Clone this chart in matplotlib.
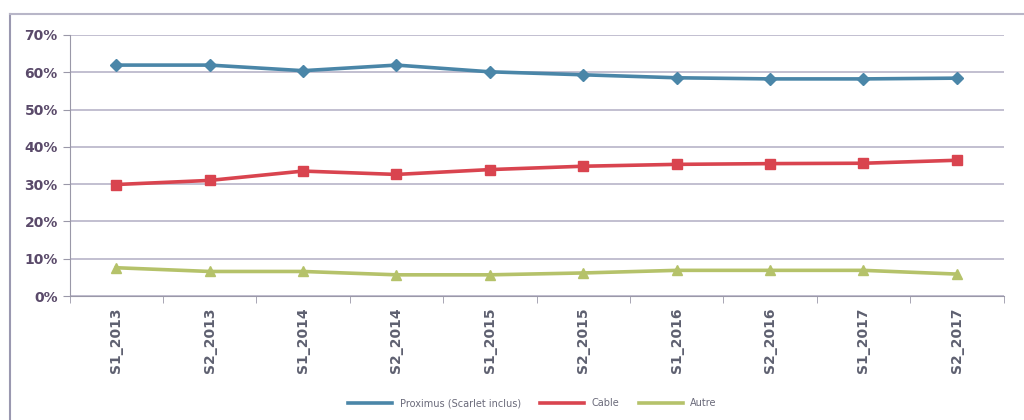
import matplotlib.pyplot as plt
from matplotlib.lines import Line2D
from matplotlib.ticker import PercentFormatter

# périodes semestrielles
periodes = ['S1_2013', 'S2_2013', 'S1_2014', 'S2_2014', 'S1_2015',
            'S2_2015', 'S1_2016', 'S2_2016', 'S1_2017', 'S2_2017']

# parts de marché (%)
proximus = [61.9, 61.9, 60.4, 61.9, 60.1, 59.3, 58.5, 58.2, 58.2, 58.4]
cable = [29.9, 31.0, 33.5, 32.6, 33.9, 34.8, 35.3, 35.5, 35.6, 36.4]
autre = [7.6, 6.6, 6.6, 5.7, 5.7, 6.2, 6.9, 6.9, 6.9, 5.9]

fig = plt.figure(figsize=(10.24, 4.2), dpi=100)
ax = fig.add_axes([0.068, 0.295, 0.912, 0.622])

# cadre du graphique (gauche + haut)
fig.add_artist(Line2D([10 / 1024, 10 / 1024], [0, 1 - 14 / 420], color='#9a98b0', lw=1.5))
fig.add_artist(Line2D([10 / 1024, 1], [1 - 14 / 420, 1 - 14 / 420], color='#b8b6c8', lw=1.5))

x = range(len(periodes))
ax.plot(x, proximus, color='#4a86a8', lw=2.6, marker='D', ms=6, label='Proximus (Scarlet inclus)')
ax.plot(x, cable, color='#d9444f', lw=2.6, marker='s', ms=7, label='Cable')
ax.plot(x, autre, color='#b5c26a', lw=2.6, marker='^', ms=7, label='Autre')

ax.set_ylim(0, 70)
ax.set_xlim(-0.5, len(periodes) - 0.5)
ax.set_yticks(range(0, 71, 10))
ax.yaxis.set_major_formatter(PercentFormatter(decimals=0))
ax.set_xticks(list(x))
ax.set_xticklabels(periodes, rotation=90)
ax.set_xticks([i - 0.5 for i in range(len(periodes) + 1)], minor=True)

ax.grid(axis='y', color='#b8b4c8', lw=1.2)
ax.set_axisbelow(True)
for s in ['top', 'right']:
    ax.spines[s].set_visible(False)
ax.spines['left'].set_color('#9a98a8')
ax.spines['bottom'].set_color('#9a98a8')

ax.tick_params(axis='x', which='major', length=0, pad=8, labelsize=10, labelcolor='#5e6070')
ax.tick_params(axis='x', which='minor', length=5, color='#9a98a8')
ax.tick_params(axis='y', length=5, color='#9a98a8', labelsize=10, labelcolor='#5a4a6a')
for t in ax.get_yticklabels() + ax.get_xticklabels():
    t.set_fontweight('bold')

fig.legend(loc='center', bbox_to_anchor=(0.52, 0.04), ncol=3, frameon=False,
           fontsize=7, handlelength=4.5, markerscale=0, labelcolor='#6a6a7a')

fig.savefig('out.png')
